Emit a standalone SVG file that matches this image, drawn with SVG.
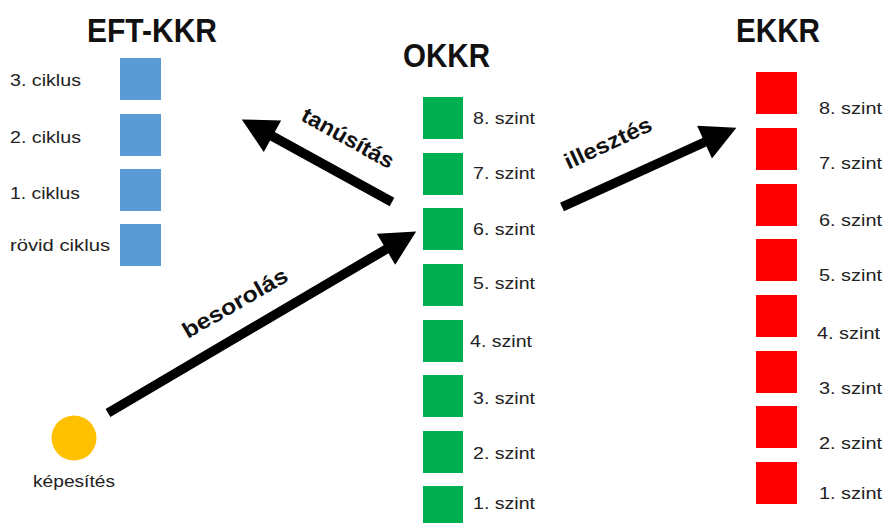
<svg xmlns="http://www.w3.org/2000/svg" width="884" height="523" viewBox="0 0 884 523">
  <defs>
    <style>
      .title { font-family: "Liberation Sans", Arial, sans-serif; font-weight: bold; font-size: 33px; fill: #111; }
      .lbl { font-family: "Liberation Sans", Arial, sans-serif; font-size: 16.5px; fill: #222; }
      .alb { font-family: "Liberation Sans", Arial, sans-serif; font-weight: bold; font-size: 22px; fill: #111; }
      .blue { fill: #5B9BD5; }
      .green { fill: #00B050; }
      .red { fill: #FF0000; }
      .shaft { stroke: #000; stroke-width: 9.5; fill: none; }
    </style>
    <marker id="head" markerUnits="userSpaceOnUse" markerWidth="36" markerHeight="36" refX="0.5" refY="17.5" orient="auto" viewBox="0 0 34 35">
      <path d="M0,0 L34,17.5 L0,35 z" fill="#000"/>
    </marker>
  </defs>
  <rect width="884" height="523" fill="#fff"/>

  <!-- Titles -->
  <text class="title" x="87" y="42" textLength="130" lengthAdjust="spacingAndGlyphs">EFT-KKR</text>
  <text class="title" x="403" y="67" textLength="87" lengthAdjust="spacingAndGlyphs">OKKR</text>
  <text class="title" x="736" y="42" textLength="84" lengthAdjust="spacingAndGlyphs">EKKR</text>

  <!-- EFT-KKR column -->
  <g id="eft-3"><rect class="blue" x="120" y="58" width="41" height="42"/><text class="lbl" x="10" y="86" textLength="71" lengthAdjust="spacingAndGlyphs">3. ciklus</text></g>
  <g id="eft-2"><rect class="blue" x="120" y="114" width="41" height="42"/><text class="lbl" x="10" y="143" textLength="71" lengthAdjust="spacingAndGlyphs">2. ciklus</text></g>
  <g id="eft-1"><rect class="blue" x="120" y="169" width="41" height="42"/><text class="lbl" x="10" y="199" textLength="70" lengthAdjust="spacingAndGlyphs">1. ciklus</text></g>
  <g id="eft-r"><rect class="blue" x="120" y="224" width="41" height="42"/><text class="lbl" x="10" y="251" textLength="100" lengthAdjust="spacingAndGlyphs">rövid ciklus</text></g>

  <!-- OKKR column -->
  <g id="okkr-8"><rect class="green" x="423" y="97" width="40" height="42"/><text class="lbl" x="473" y="124" textLength="62" lengthAdjust="spacingAndGlyphs">8. szint</text></g>
  <g id="okkr-7"><rect class="green" x="423" y="153" width="40" height="42"/><text class="lbl" x="473" y="179" textLength="62" lengthAdjust="spacingAndGlyphs">7. szint</text></g>
  <g id="okkr-6"><rect class="green" x="423" y="208" width="40" height="42"/><text class="lbl" x="473" y="235" textLength="62" lengthAdjust="spacingAndGlyphs">6. szint</text></g>
  <g id="okkr-5"><rect class="green" x="423" y="264" width="40" height="42"/><text class="lbl" x="473" y="289" textLength="62" lengthAdjust="spacingAndGlyphs">5. szint</text></g>
  <g id="okkr-4"><rect class="green" x="423" y="320" width="40" height="42"/><text class="lbl" x="470" y="347" textLength="62" lengthAdjust="spacingAndGlyphs">4. szint</text></g>
  <g id="okkr-3"><rect class="green" x="423" y="375" width="40" height="42"/><text class="lbl" x="473" y="404" textLength="62" lengthAdjust="spacingAndGlyphs">3. szint</text></g>
  <g id="okkr-2"><rect class="green" x="423" y="431" width="40" height="42"/><text class="lbl" x="473" y="459" textLength="62" lengthAdjust="spacingAndGlyphs">2. szint</text></g>
  <g id="okkr-1"><rect class="green" x="423" y="486" width="40" height="42"/><text class="lbl" x="473" y="509" textLength="62" lengthAdjust="spacingAndGlyphs">1. szint</text></g>

  <!-- EKKR column -->
  <g id="ekkr-8"><rect class="red" x="756" y="72" width="41" height="42"/><text class="lbl" x="819" y="114" textLength="63" lengthAdjust="spacingAndGlyphs">8. szint</text></g>
  <g id="ekkr-7"><rect class="red" x="756" y="128" width="41" height="42"/><text class="lbl" x="819" y="169" textLength="63" lengthAdjust="spacingAndGlyphs">7. szint</text></g>
  <g id="ekkr-6"><rect class="red" x="756" y="184" width="41" height="42"/><text class="lbl" x="819" y="226" textLength="63" lengthAdjust="spacingAndGlyphs">6. szint</text></g>
  <g id="ekkr-5"><rect class="red" x="756" y="239" width="41" height="42"/><text class="lbl" x="819" y="281" textLength="63" lengthAdjust="spacingAndGlyphs">5. szint</text></g>
  <g id="ekkr-4"><rect class="red" x="756" y="295" width="41" height="42"/><text class="lbl" x="817" y="339" textLength="63" lengthAdjust="spacingAndGlyphs">4. szint</text></g>
  <g id="ekkr-3"><rect class="red" x="756" y="351" width="41" height="42"/><text class="lbl" x="819" y="394" textLength="63" lengthAdjust="spacingAndGlyphs">3. szint</text></g>
  <g id="ekkr-2"><rect class="red" x="756" y="406" width="41" height="42"/><text class="lbl" x="819" y="449" textLength="63" lengthAdjust="spacingAndGlyphs">2. szint</text></g>
  <g id="ekkr-1"><rect class="red" x="756" y="462" width="41" height="42"/><text class="lbl" x="819" y="499" textLength="63" lengthAdjust="spacingAndGlyphs">1. szint</text></g>

  <!-- Qualification -->
  <g id="kepesites">
    <circle cx="74" cy="438" r="22.5" fill="#FFC000"/>
    <text class="lbl" x="74" y="487" text-anchor="middle" font-size="15" textLength="82" lengthAdjust="spacingAndGlyphs">képesítés</text>
  </g>

  <!-- Connectors -->
  <g id="connectors">
    <line class="shaft" x1="392" y1="202" x2="272" y2="136" marker-end="url(#head)"/>
    <line class="shaft" x1="562" y1="207" x2="705" y2="142" marker-end="url(#head)"/>
    <line class="shaft" x1="108" y1="413" x2="386.5" y2="249" marker-end="url(#head)"/>
    <text class="alb" transform="translate(348,138) rotate(29)" text-anchor="middle" dominant-baseline="central" textLength="102" lengthAdjust="spacingAndGlyphs">tanúsítás</text>
    <text class="alb" transform="translate(608,143) rotate(-25)" text-anchor="middle" dominant-baseline="central" textLength="94" lengthAdjust="spacingAndGlyphs">illesztés</text>
    <text class="alb" transform="translate(235,303) rotate(-30)" text-anchor="middle" dominant-baseline="central" textLength="118" lengthAdjust="spacingAndGlyphs">besorolás</text>
  </g>
</svg>
